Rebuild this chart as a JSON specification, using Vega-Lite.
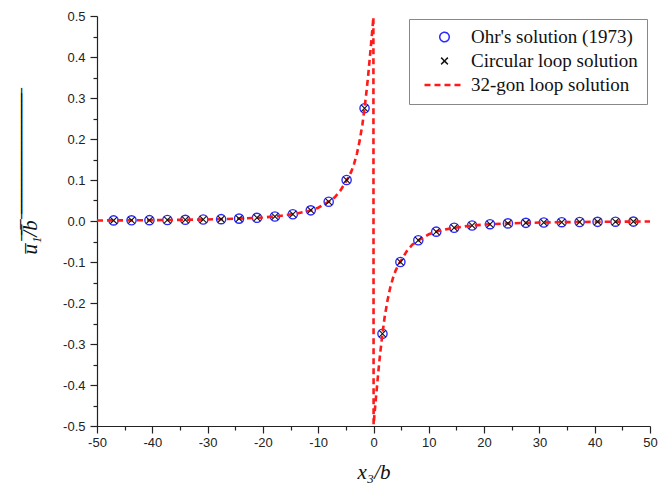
{
  "$schema": "https://vega.github.io/schema/vega-lite/v6.json",
  "width": 553,
  "height": 410,
  "autosize": {"type": "none"},
  "padding": {"left": 97, "top": 16, "right": 18, "bottom": 73},
  "background": "white",
  "config": {
    "view": {"stroke": null},
    "axis": {
      "grid": false,
      "domainColor": "#222222",
      "domainWidth": 1.2,
      "tickColor": "#222222",
      "tickWidth": 1.2,
      "labelFont": "Liberation Sans",
      "labelFontSize": 13,
      "labelColor": "#222222",
      "titleFont": "Liberation Serif",
      "titleFontStyle": "italic",
      "titleFontWeight": "normal",
      "titleFontSize": 21,
      "titleColor": "#111111"
    },
    "legend": {
      "orient": "top-right",
      "offset": 3,
      "padding": 9,
      "strokeColor": "#888888",
      "fillColor": "white",
      "labelFont": "Liberation Serif",
      "labelFontSize": 19,
      "labelColor": "#111111",
      "labelLimit": 300,
      "clipHeight": 18,
      "rowPadding": 5,
      "labelOffset": 17,
      "symbolOffset": 17,
      "symbolSize": 1600,
      "symbolStrokeWidth": 2
    }
  },
  "datasets": {
    "pts": [
      {"x": -47.0, "y": 0.0015},
      {"x": -43.759, "y": 0.0017},
      {"x": -40.517, "y": 0.0020},
      {"x": -37.276, "y": 0.0024},
      {"x": -34.034, "y": 0.0029},
      {"x": -30.793, "y": 0.0036},
      {"x": -27.552, "y": 0.0045},
      {"x": -24.310, "y": 0.0058},
      {"x": -21.069, "y": 0.0078},
      {"x": -17.828, "y": 0.0110},
      {"x": -14.586, "y": 0.0165},
      {"x": -11.345, "y": 0.0260},
      {"x": -8.103, "y": 0.0470},
      {"x": -4.862, "y": 0.1000},
      {"x": -1.621, "y": 0.2750},
      {"x": 1.621, "y": -0.2750},
      {"x": 4.862, "y": -0.1000},
      {"x": 8.103, "y": -0.0470},
      {"x": 11.345, "y": -0.0260},
      {"x": 14.586, "y": -0.0165},
      {"x": 17.828, "y": -0.0110},
      {"x": 21.069, "y": -0.0078},
      {"x": 24.310, "y": -0.0058},
      {"x": 27.552, "y": -0.0045},
      {"x": 30.793, "y": -0.0036},
      {"x": 34.034, "y": -0.0029},
      {"x": 37.276, "y": -0.0024},
      {"x": 40.517, "y": -0.0020},
      {"x": 43.759, "y": -0.0017},
      {"x": 47.0, "y": -0.0015}
    ],
    "curve": [
      {"x": -50, "y": 0.0013},
      {"x": -45, "y": 0.0016},
      {"x": -40, "y": 0.00205},
      {"x": -35, "y": 0.00274},
      {"x": -30, "y": 0.0038},
      {"x": -25, "y": 0.0055},
      {"x": -22, "y": 0.0072},
      {"x": -20, "y": 0.0087},
      {"x": -17, "y": 0.0121},
      {"x": -14, "y": 0.0180},
      {"x": -12, "y": 0.0235},
      {"x": -10, "y": 0.0324},
      {"x": -8.1, "y": 0.047},
      {"x": -7, "y": 0.058},
      {"x": -6, "y": 0.074},
      {"x": -5, "y": 0.096},
      {"x": -4.5, "y": 0.107},
      {"x": -4, "y": 0.121},
      {"x": -3.5, "y": 0.140},
      {"x": -3, "y": 0.164},
      {"x": -2.5, "y": 0.196},
      {"x": -2, "y": 0.236},
      {"x": -1.62, "y": 0.275},
      {"x": -1.25, "y": 0.318},
      {"x": -1, "y": 0.350},
      {"x": -0.75, "y": 0.386},
      {"x": -0.5, "y": 0.423},
      {"x": -0.3, "y": 0.453},
      {"x": -0.15, "y": 0.476},
      {"x": -0.02, "y": 0.497},
      {"x": 0.02, "y": -0.497},
      {"x": 0.15, "y": -0.476},
      {"x": 0.3, "y": -0.453},
      {"x": 0.5, "y": -0.423},
      {"x": 0.75, "y": -0.386},
      {"x": 1, "y": -0.350},
      {"x": 1.25, "y": -0.318},
      {"x": 1.62, "y": -0.275},
      {"x": 2, "y": -0.236},
      {"x": 2.5, "y": -0.196},
      {"x": 3, "y": -0.164},
      {"x": 3.5, "y": -0.140},
      {"x": 4, "y": -0.121},
      {"x": 4.5, "y": -0.107},
      {"x": 5, "y": -0.096},
      {"x": 6, "y": -0.074},
      {"x": 7, "y": -0.058},
      {"x": 8.1, "y": -0.047},
      {"x": 10, "y": -0.0324},
      {"x": 12, "y": -0.0235},
      {"x": 14, "y": -0.0180},
      {"x": 17, "y": -0.0121},
      {"x": 20, "y": -0.0087},
      {"x": 22, "y": -0.0072},
      {"x": 25, "y": -0.0055},
      {"x": 30, "y": -0.0038},
      {"x": 35, "y": -0.00274},
      {"x": 40, "y": -0.00205},
      {"x": 45, "y": -0.0016},
      {"x": 50, "y": -0.0013}
    ]
  },
  "encoding": {
    "x": {
      "field": "x",
      "type": "quantitative",
      "scale": {"domain": [-50, 50], "nice": false},
      "axis": {
        "title": "x₃/b",
        "values": [-50, -45, -40, -35, -30, -25, -20, -15, -10, -5, 0, 5, 10, 15, 20, 25, 30, 35, 40, 45, 50],
        "labelExpr": "datum.value % 10 === 0 ? ((datum.value < 0 ? '-' : '') + format(abs(datum.value), 'd')) : ''",
        "tickSize": {"condition": {"test": "datum.value % 10 !== 0", "value": 4}, "value": 7},
        "labelPadding": 3,
        "titlePadding": 12,
        "labelFlush": false
      }
    },
    "y": {
      "field": "y",
      "type": "quantitative",
      "scale": {"domain": [-0.5, 0.5], "nice": false},
      "axis": {
        "title": "u̅₁̅/̅b̅ ̅ ̅ ̅ ̅ ̅ ̅ ̅ ̅ ̅ ̅ ̅ ̅ ̅ ̅ ̅ ̅ ̅ ̅ ̅ ̅ ̅ ̅ ̅ ̅",
        "titleY": 238,
        "titleAlign": "left",
        "values": [-0.5, -0.45, -0.4, -0.35, -0.3, -0.25, -0.2, -0.15, -0.1, -0.05, 0, 0.05, 0.1, 0.15, 0.2, 0.25, 0.3, 0.35, 0.4, 0.45, 0.5],
        "labelExpr": "round(datum.value * 100) % 10 === 0 ? ((datum.value < -0.001 ? '-' : '') + format(abs(datum.value), '.1f')) : ''",
        "tickSize": {"condition": {"test": "round(datum.value * 100) % 10 !== 0", "value": 4}, "value": 7},
        "labelPadding": 5,
        "titlePadding": 22,
        "labelFlush": false
      }
    },
    "color": {
      "field": "series",
      "type": "nominal",
      "scale": {"domain": ["Ohr's solution (1973)", "Circular loop solution", "32-gon loop solution"], "range": ["#2a2aff", "#111111", "#ff1a1a"]},
      "legend": {
        "title": null,
        "encode": {
          "symbols": {
            "update": {
              "shape": {"signal": "datum.value === '32-gon loop solution' ? 'stroke' : (datum.value === 'Circular loop solution' ? 'M-1,-1L1,1M1,-1L-1,1' : 'circle')"},
              "size": {"signal": "datum.value === '32-gon loop solution' ? 1600 : (datum.value === 'Circular loop solution' ? 45 : 90)"},
              "strokeDash": {"signal": "datum.value === '32-gon loop solution' ? [6, 4] : [1, 0]"},
              "strokeWidth": {"signal": "datum.value === '32-gon loop solution' ? 2.6 : 1.5"},
              "fill": {"value": "transparent"},
              "opacity": {"value": 1}
            }
          }
        }
      }
    }
  },
  "layer": [
    {
      "data": {"name": "pts"},
      "mark": {"type": "point", "shape": "circle", "filled": false, "strokeWidth": 1.4, "size": 85, "opacity": 1},
      "encoding": {
        "color": {"datum": "Ohr's solution (1973)", "type": "nominal"}
      }
    },
    {
      "data": {"name": "curve"},
      "mark": {"type": "line", "strokeWidth": 2.6, "strokeDash": [6, 4]},
      "encoding": {
        "color": {"datum": "32-gon loop solution", "type": "nominal"}
      }
    },
    {
      "data": {"name": "pts"},
      "mark": {"type": "point", "shape": "M-1,-1L1,1M1,-1L-1,1", "filled": false, "strokeWidth": 1.1, "size": 45, "opacity": 1},
      "encoding": {
        "color": {"datum": "Circular loop solution", "type": "nominal"}
      }
    }
  ]
}
